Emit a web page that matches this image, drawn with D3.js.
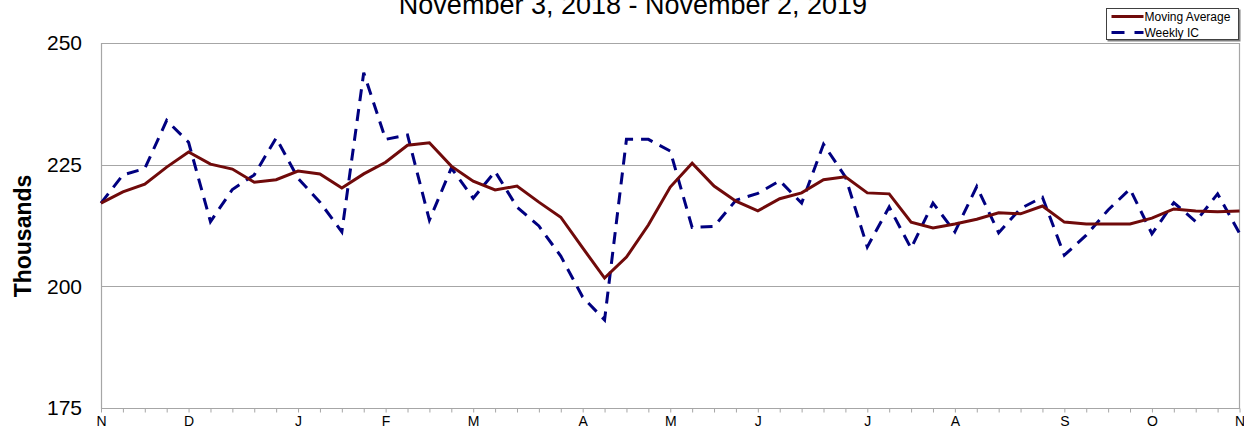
<!DOCTYPE html>
<html>
<head>
<meta charset="utf-8">
<script src="https://cdn.jsdelivr.net/npm/d3@7"></script>
<style>
	body { margin: 0; background: #fff; }
	#chart { width: 1244px; height: 432px; }
	text { font-family: "Liberation Sans", Arial, sans-serif; fill: #000; }
</style>
</head>
<body>
<div id="chart"></div>
<script>
// week-ending dates (Saturdays)
var weeks = [
	"2018-11-03", "2018-11-10", "2018-11-17", "2018-11-24", "2018-12-01", "2018-12-08", "2018-12-15", "2018-12-22", "2018-12-29",
	"2019-01-05", "2019-01-12", "2019-01-19", "2019-01-26", "2019-02-02", "2019-02-09", "2019-02-16", "2019-02-23",
	"2019-03-02", "2019-03-09", "2019-03-16", "2019-03-23", "2019-03-30", "2019-04-06", "2019-04-13", "2019-04-20", "2019-04-27",
	"2019-05-04", "2019-05-11", "2019-05-18", "2019-05-25", "2019-06-01", "2019-06-08", "2019-06-15", "2019-06-22", "2019-06-29",
	"2019-07-06", "2019-07-13", "2019-07-20", "2019-07-27", "2019-08-03", "2019-08-10", "2019-08-17", "2019-08-24", "2019-08-31",
	"2019-09-07", "2019-09-14", "2019-09-21", "2019-09-28", "2019-10-05", "2019-10-12", "2019-10-19", "2019-10-26", "2019-11-02"
];

// thousands
var movingAverage = [217.1, 219.4, 221.0, 224.5, 227.6, 225.1, 224.1, 221.4, 221.9, 223.7, 223.1, 220.2, 223.1,
	225.5, 229.0, 229.5, 224.7, 221.6, 219.8, 220.6, 217.3, 214.2, 207.9, 201.7, 206.0, 212.6, 220.4,
	225.3, 220.6, 217.5, 215.5, 218.0, 219.2, 221.9, 222.5, 219.2, 219.0, 213.2, 212.0, 212.8, 213.8,
	215.1, 214.9, 216.5, 213.2, 212.8, 212.8, 212.8, 214.0, 215.9, 215.5, 215.3, 215.5];

var weeklyIC = [217.1, 222.9, 224.2, 234.1, 229.6, 213.3, 219.9, 222.9, 230.5, 222.2, 217.3, 211.2, 243.9,
	230.2, 231.1, 213.6, 224.3, 218.1, 223.6, 216.3, 212.4, 206.2, 197.8, 193.1, 230.2, 230.2, 227.8,
	212.1, 212.3, 217.7, 219.1, 221.7, 217.1, 229.2, 222.5, 208.1, 216.3, 207.8, 217.1, 211.2, 220.5,
	211.0, 216.0, 218.3, 206.4, 210.5, 215.7, 220.0, 210.8, 217.2, 213.3, 219.0, 210.9];

var yTicks = [175, 200, 225, 250];
var monthLetters = ["J", "F", "M", "A", "M", "J", "J", "A", "S", "O", "N", "D"];
var seriesNames = ["Moving Average", "Weekly IC"];

var parseDate = d3.timeParse("%Y-%m-%d");
var dates = weeks.map(function(s){ return parseDate(s); });

var W = 1244, H = 432;
var margin = {top: 43, right: 4.5, bottom: 24, left: 101};
var width = W - margin.left - margin.right;
var height = H - margin.top - margin.bottom;

var svg = d3.select("#chart").append("svg")
	.attr("width", W)
	.attr("height", H);

var x = d3.scaleTime()
	.domain([dates[0], dates[dates.length - 1]])
	.range([margin.left, margin.left + width]);

var y = d3.scaleLinear()
	.domain([175, 250])
	.range([margin.top + height, margin.top]);

// title (top is clipped like the original)
svg.append("text")
	.attr("x", 633)
	.attr("y", 14)
	.attr("text-anchor", "middle")
	.style("font-size", "27px")
	.text("November 3, 2018 - November 2, 2019");

// gridlines
svg.append("g").selectAll("line")
	.data(yTicks.slice(1))
	.enter().append("line")
	.attr("x1", margin.left).attr("x2", margin.left + width)
	.attr("y1", function(d){ return Math.round(y(d)) + 0.5; })
	.attr("y2", function(d){ return Math.round(y(d)) + 0.5; })
	.attr("stroke", "#a6a6a6")
	.attr("stroke-width", 1);

// plot frame (left, bottom, right)
svg.append("path")
	.attr("d", "M" + (margin.left + 0.5) + "," + margin.top + "V" + (Math.round(y(175)) + 0.5) +
		"H" + (margin.left + width) + "V" + margin.top)
	.attr("fill", "none")
	.attr("stroke", "#a6a6a6")
	.attr("stroke-width", 1.2);

// y axis labels
var yAxis = d3.axisLeft(y).tickValues(yTicks).tickSize(0).tickPadding(19);
var gy = svg.append("g")
	.attr("transform", "translate(" + margin.left + ",0)")
	.call(yAxis);
gy.select(".domain").remove();
gy.selectAll("text")
	.style("font-size", "21px")
	.style("font-family", "\"Liberation Sans\", Arial, sans-serif")
	.attr("fill", "#000");

svg.append("text")
	.attr("transform", "translate(31," + 236 + ") rotate(-90)")
	.attr("text-anchor", "middle")
	.style("font-size", "23px")
	.style("font-weight", "bold")
	.text("Thousands");

// x axis: a tick every week, month initial on first week of each month
var xAxis = d3.axisBottom(x)
	.tickValues(dates)
	.tickSize(4)
	.tickPadding(4)
	.tickFormat(function(d){ return d.getDate() <= 7 ? monthLetters[d.getMonth()] : ""; });
var gx = svg.append("g")
	.attr("transform", "translate(0," + (Math.round(y(175)) + 0.5) + ")")
	.call(xAxis);
gx.select(".domain").remove();
gx.selectAll(".tick line").attr("stroke", "#a6a6a6");
gx.selectAll("text")
	.style("font-size", "14px")
	.style("font-family", "\"Liberation Sans\", Arial, sans-serif")
	.attr("fill", "#000");

// lines
var line = d3.line()
	.x(function(d, i){ return x(dates[i]); })
	.y(function(d){ return y(d); });

svg.append("path")
	.datum(weeklyIC)
	.attr("d", line)
	.attr("fill", "none")
	.attr("stroke", "#000080")
	.attr("stroke-width", 3)
	.attr("stroke-dasharray", "12,8");

svg.append("path")
	.datum(movingAverage)
	.attr("d", line)
	.attr("fill", "none")
	.attr("stroke", "#700a0a")
	.attr("stroke-width", 3);

// legend
var legend = svg.append("g").attr("transform", "translate(1106.5,8.5)");
legend.append("rect")
	.attr("x", 1).attr("y", 1)
	.attr("width", 133).attr("height", 32)
	.attr("fill", "#808080");
legend.append("rect")
	.attr("width", 132).attr("height", 31)
	.attr("fill", "#fff")
	.attr("stroke", "#404040")
	.attr("stroke-width", 1);

var items = legend.selectAll(".item")
	.data(seriesNames)
	.enter().append("g")
	.attr("class", "item")
	.attr("transform", function(d, i){ return "translate(0," + (8 + i * 16) + ")"; });

items.append("line")
	.attr("x1", 5).attr("x2", 37)
	.attr("stroke", function(d, i){ return i === 0 ? "#700a0a" : "#000080"; })
	.attr("stroke-width", 3)
	.attr("stroke-dasharray", function(d, i){ return i === 0 ? null : "13,10"; });

items.append("text")
	.attr("x", 38)
	.attr("y", 4)
	.style("font-size", "12px")
	.text(function(d){ return d; });
</script>
</body>
</html>
